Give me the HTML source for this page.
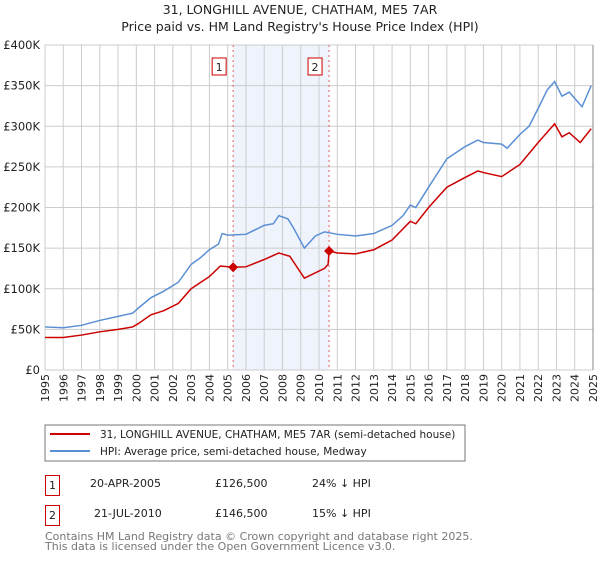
<!DOCTYPE html>
<html><head><meta charset="utf-8"><style>
body{margin:0;background:#fff;font-family:"DejaVu Sans","Liberation Sans",sans-serif;}
svg text{font-family:"DejaVu Sans","Liberation Sans",sans-serif;}
</style></head><body>
<svg id="chart" width="600" height="560" xmlns="http://www.w3.org/2000/svg">
<text x="300" y="14" text-anchor="middle" font-size="12.5" fill="#222">31, LONGHILL AVENUE, CHATHAM, ME5 7AR</text>
<text x="300" y="31" text-anchor="middle" font-size="12.5" fill="#222">Price paid vs. HM Land Registry's House Price Index (HPI)</text>
<g id="grid"></g><g id="marks"></g>
<rect x="45" y="425" width="420" height="36" fill="#fff" stroke="#777"/>
<line x1="50" y1="434" x2="90" y2="434" stroke="#cc0000" stroke-width="2"/>
<text x="100" y="438" font-size="10.5" fill="#222">31, LONGHILL AVENUE, CHATHAM, ME5 7AR (semi-detached house)</text>
<line x1="50" y1="451" x2="90" y2="451" stroke="#5b8fd4" stroke-width="2"/>
<text x="100" y="455" font-size="10.5" fill="#222">HPI: Average price, semi-detached house, Medway</text>
<g>
<rect x="45.5" y="475.5" width="14" height="20" fill="#fff" stroke="#cc0000"/><text x="52.5" y="489" font-size="11" text-anchor="middle" fill="#222">1</text>
<text x="90" y="487" font-size="11" fill="#222">20-APR-2005</text><text x="215" y="487" font-size="11" fill="#222">£126,500</text><text x="312" y="487" font-size="11" fill="#222">24% ↓ HPI</text></g>
<g>
<rect x="45.5" y="505.5" width="14" height="20" fill="#fff" stroke="#cc0000"/><text x="52.5" y="519" font-size="11" text-anchor="middle" fill="#222">2</text>
<text x="94" y="517" font-size="11" fill="#222">21-JUL-2010</text><text x="215" y="517" font-size="11" fill="#222">£146,500</text><text x="312" y="517" font-size="11" fill="#222">15% ↓ HPI</text></g>
<text x="45" y="540" font-size="11" fill="#777">Contains HM Land Registry data © Crown copyright and database right 2025.</text>
<text x="45" y="550" font-size="11" fill="#777">This data is licensed under the Open Government Licence v3.0.</text>
</svg>
<script>
const yTicks=[0,50,100,150,200,250,300,350,400];
const yTickLabels=["£0","£50K","£100K","£150K","£200K","£250K","£300K","£350K","£400K"];
const years=[1995,1996,1997,1998,1999,2000,2001,2002,2003,2004,2005,2006,2007,2008,2009,2010,2011,2012,2013,2014,2015,2016,2017,2018,2019,2020,2021,2022,2023,2024,2025];
const hpiT=[1995,1996,1997,1998,1999,1999.8,2000.1,2000.8,2001.5,2002.3,2003,2003.5,2004,2004.5,2004.7,2005,2006,2007,2007.5,2007.8,2008.3,2008.6,2009.2,2009.8,2010.3,2011,2012,2013,2014,2014.6,2015,2015.3,2016,2017,2018,2018.7,2019,2020,2020.3,2021,2021.5,2022,2022.5,2022.9,2023.3,2023.7,2024.4,2024.9];
const hpiV=[53,52,55,61,66,70,76,89,97,108,130,138,148,155,168,166,167,178,180,190,186,175,150,165,170,167,165,168,178,190,203,200,225,260,275,283,280,278,273,290,300,322,345,355,337,342,324,350];
const priceT=[1995,1996,1997,1998,1999,1999.8,2000.1,2000.8,2001.5,2002.3,2003,2004,2004.6,2005.3,2006,2007,2007.8,2008.4,2009.2,2010.3,2010.5,2010.55,2011,2012,2013,2014,2015,2015.3,2016,2017,2018,2018.7,2019,2020,2021,2022,2022.9,2023.3,2023.7,2024.3,2024.9];
const priceV=[40,40,43,47,50,53,57,68,73,82,100,115,128,126.5,127,136,144,140,113,125,130,146.5,144,143,148,160,183,180,200,225,237,245,243,238,253,280,303,287,292,280,297];
const saleT=[2005.3,2010.55];
const saleV=[126.5,146.5];
const saleLabels=["1","2"];
const X0=45,X1=593,Y0=370,Y1=45;
const xs=t=>X0+(t-1995)/30*(X1-X0);
const ys=v=>Y0-v/400*(Y0-Y1);
const NS="http://www.w3.org/2000/svg";
const g=document.getElementById('grid'),m=document.getElementById('marks');
function mk(p,tag,a){const e=document.createElementNS(NS,tag);for(const k in a)e.setAttribute(k,a[k]);p.appendChild(e);return e;}
const shade=mk(g,'rect',{x:xs(saleT[0]),y:Y1,width:xs(saleT[1])-xs(saleT[0]),height:Y0-Y1,fill:'#eef3fc'});


years.forEach(y=>{const l=mk(g,'line',{x1:xs(y),x2:xs(y),y1:Y1,y2:Y0,stroke:'#ccc'});


const t=mk(g,'text',{x:0,y:0,'font-size':11,fill:'#222','text-anchor':'end',transform:`translate(${xs(y)+4},374) rotate(-90)`});t.textContent=y;

});
yTicks.forEach((v,i)=>{const l=mk(g,'line',{x1:X0,x2:X1,y1:ys(v),y2:ys(v),stroke:'#ccc'});


const t=mk(g,'text',{x:40,y:ys(v)+4,'font-size':11.5,fill:'#222','text-anchor':'end'});t.textContent=yTickLabels[i];

});
saleT.forEach((t,i)=>{const l=mk(m,'line',{x1:xs(t),x2:xs(t),y1:Y1,y2:Y0,stroke:'#e06060','stroke-dasharray':'2,3'});


const r=mk(m,'rect',{x:xs(t)-21,y:58,width:14,height:17,fill:'#fff',stroke:'#cc0000'});


const tx=mk(m,'text',{x:xs(t)-14,y:71,'font-size':11,'text-anchor':'middle',fill:'#222'});tx.textContent=saleLabels[i];

});
const hp=mk(m,'polyline',{points:hpiT.map((t,i)=>xs(t)+','+ys(hpiV[i])).join(' '),fill:'none',stroke:'#5b8fd4','stroke-width':1.5});


const pp=mk(m,'polyline',{points:priceT.map((t,i)=>xs(t)+','+ys(priceV[i])).join(' '),fill:'none',stroke:'#cc0000','stroke-width':1.5});


saleT.forEach((t,i)=>{const c=mk(m,'path',{d:`M${xs(t)},${ys(saleV[i])-5}l5,5l-5,5l-5,-5z`,fill:'#cc0000'});

});
const ax=mk(m,'line',{x1:X1,x2:X1,y1:Y1,y2:Y0,stroke:'#888'});


</script>
</body></html>
